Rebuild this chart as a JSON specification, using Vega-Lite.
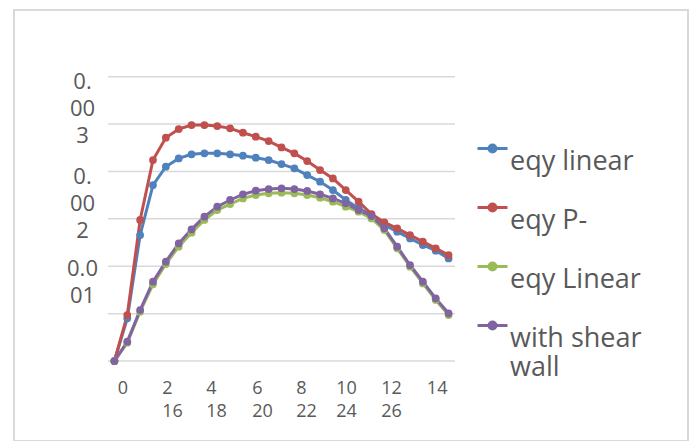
{
  "$schema": "https://vega.github.io/schema/vega-lite/v6.json",
  "width": 674,
  "height": 431,
  "autosize": {"type": "none"},
  "padding": {"left": 14, "top": 10, "right": 5, "bottom": 0},
  "background": "white",
  "config": {"view": {"stroke": "#d9d9d9", "strokeWidth": 2}, "font": "Open Sans"},
  "datasets": {
    "grid": [{"g": 0}, {"g": 0.0005}, {"g": 0.001}, {"g": 0.0015}, {"g": 0.002}, {"g": 0.0025}, {"g": 0.003}],
    "series": [
      {"i": 0, "eqy linear": 0, "eqy P-": 0, "eqy Linear": 0, "with shear wall": 0},
      {"i": 1, "eqy linear": 0.000450, "eqy P-": 0.000485, "eqy Linear": 0.000193, "with shear wall": 0.000204},
      {"i": 2, "eqy linear": 0.001329, "eqy P-": 0.001488, "eqy Linear": 0.000521, "with shear wall": 0.000538},
      {"i": 3, "eqy linear": 0.001857, "eqy P-": 0.002121, "eqy Linear": 0.000809, "with shear wall": 0.000837},
      {"i": 4, "eqy linear": 0.002050, "eqy P-": 0.002356, "eqy Linear": 0.001023, "with shear wall": 0.001048},
      {"i": 5, "eqy linear": 0.002138, "eqy P-": 0.002448, "eqy Linear": 0.001206, "with shear wall": 0.001241},
      {"i": 6, "eqy linear": 0.002181, "eqy P-": 0.002490, "eqy Linear": 0.001354, "with shear wall": 0.001389},
      {"i": 7, "eqy linear": 0.002191, "eqy P-": 0.002490, "eqy Linear": 0.001488, "with shear wall": 0.001523},
      {"i": 8, "eqy linear": 0.002191, "eqy P-": 0.002479, "eqy Linear": 0.001593, "with shear wall": 0.001628},
      {"i": 9, "eqy linear": 0.002181, "eqy P-": 0.002455, "eqy Linear": 0.001656, "with shear wall": 0.001699},
      {"i": 10, "eqy linear": 0.002166, "eqy P-": 0.002409, "eqy Linear": 0.001716, "with shear wall": 0.001759},
      {"i": 11, "eqy linear": 0.002145, "eqy P-": 0.002367, "eqy Linear": 0.001751, "with shear wall": 0.001797},
      {"i": 12, "eqy linear": 0.002121, "eqy P-": 0.002321, "eqy Linear": 0.001769, "with shear wall": 0.001815},
      {"i": 13, "eqy linear": 0.002078, "eqy P-": 0.002254, "eqy Linear": 0.001776, "with shear wall": 0.001822},
      {"i": 14, "eqy linear": 0.002033, "eqy P-": 0.002191, "eqy Linear": 0.001769, "with shear wall": 0.001815},
      {"i": 15, "eqy linear": 0.001962, "eqy P-": 0.002110, "eqy Linear": 0.001751, "with shear wall": 0.001794},
      {"i": 16, "eqy linear": 0.001892, "eqy P-": 0.002015, "eqy Linear": 0.001723, "with shear wall": 0.001759},
      {"i": 17, "eqy linear": 0.001804, "eqy P-": 0.001927, "eqy Linear": 0.001681, "with shear wall": 0.001716},
      {"i": 18, "eqy linear": 0.001699, "eqy P-": 0.001804, "eqy Linear": 0.001628, "with shear wall": 0.001664},
      {"i": 19, "eqy linear": 0.001611, "eqy P-": 0.001681, "eqy Linear": 0.001576, "with shear wall": 0.001593},
      {"i": 20, "eqy linear": 0.001540, "eqy P-": 0.001551, "eqy Linear": 0.001505, "with shear wall": 0.001530},
      {"i": 21, "eqy linear": 0.001435, "eqy P-": 0.001463, "eqy Linear": 0.001382, "with shear wall": 0.001400},
      {"i": 22, "eqy linear": 0.001365, "eqy P-": 0.001400, "eqy Linear": 0.001189, "with shear wall": 0.001206},
      {"i": 23, "eqy linear": 0.001294, "eqy P-": 0.001329, "eqy Linear": 0.000995, "with shear wall": 0.001013},
      {"i": 24, "eqy linear": 0.001224, "eqy P-": 0.001259, "eqy Linear": 0.000819, "with shear wall": 0.000837},
      {"i": 25, "eqy linear": 0.001164, "eqy P-": 0.001189, "eqy Linear": 0.000644, "with shear wall": 0.000661},
      {"i": 26, "eqy linear": 0.001083, "eqy P-": 0.001118, "eqy Linear": 0.000485, "with shear wall": 0.000503}
    ]
  },
  "layer": [
    {
      "data": {"name": "grid"},
      "mark": {"type": "rule", "color": "#d9d9d9", "strokeWidth": 1.5},
      "encoding": {
        "x": {"datum": -0.5, "type": "quantitative",
          "scale": {"domain": [-7.814, 44.629], "nice": false, "zero": false},
          "axis": {"orient": "bottom", "offset": -80, "title": null, "grid": false, "ticks": false, "domain": false,
            "values": [0.22, 3.68, 7.10, 10.68, 14.10, 17.22, 20.72, 24.27],
            "labelExpr": "datum.value < 1 ? '0' : datum.value < 5 ? ['2','16'] : datum.value < 9 ? ['4','18'] : datum.value < 12 ? ['6','20'] : datum.value < 15 ? ['8','22'] : datum.value < 19 ? ['10','24'] : datum.value < 22 ? ['12','26'] : '14'",
            "labelAlign": "left", "labelBaseline": "top", "labelPadding": 18, "labelFontSize": 18, "labelLineHeight": 23.5,
            "labelColor": "#595959", "labelFont": "Open Sans", "labelOverlap": false, "labelFlush": false, "labelBound": false}},
        "x2": {"datum": 26.5},
        "y": {"field": "g", "type": "quantitative",
          "scale": {"domain": [-0.000844, 0.0037038], "nice": false, "zero": false},
          "axis": {"title": null, "grid": false, "ticks": false, "domain": false,
            "values": [0.001, 0.002, 0.003],
            "labelExpr": "datum.value > 0.0025 ? ['0.','00','3'] : datum.value > 0.0015 ? ['0.','00','2'] : ['0.0','01']",
            "labelAlign": "center", "labelBaseline": "top", "labelPadding": -68,
            "labelOffset": {"condition": {"test": "datum.value < 0.0015", "value": -8}, "value": -5},
            "labelFontSize": 22, "labelLineHeight": 27, "labelColor": "#595959", "labelFont": "Open Sans",
            "labelOverlap": false, "labelFlush": false, "labelBound": false}}
      }
    },
    {
      "data": {"name": "series"},
      "transform": [{"fold": ["eqy linear", "eqy P-", "eqy Linear", "with shear wall"], "as": ["series", "value"]}],
      "mark": {"type": "line", "strokeWidth": 3, "point": {"filled": true, "size": 60, "opacity": 1}},
      "encoding": {
        "x": {"field": "i", "type": "quantitative"},
        "y": {"field": "value", "type": "quantitative"},
        "color": {"field": "series", "type": "nominal",
          "scale": {"domain": ["eqy linear", "eqy P-", "eqy Linear", "with shear wall"],
                    "range": ["#4F81BD", "#C0504D", "#9BBB59", "#8064A2"]},
          "legend": {"orient": "none", "legendX": 462, "legendY": 122, "title": null,
            "symbolType": "M-1,0H1M-0.23,0A0.23,0.23 0 1,1 0.23,0A0.23,0.23 0 1,1 -0.23,0Z",
            "symbolSize": 900, "symbolStrokeWidth": 3,
            "labelFont": "Open Sans", "labelFontSize": 27, "labelColor": "#595959", "labelOffset": 1,
            "labelBaseline": "top", "labelLimit": 300, "rowPadding": 16, "labelLineHeight": 40,
            "labelExpr": "datum.label == 'with shear wall' ? ['with shear','wall'] : datum.label",
            "encode": {"symbols": {"update": {"fill": {"scale": "color", "field": "value"}, "opacity": {"value": 1}}}}}}
      }
    }
  ]
}
